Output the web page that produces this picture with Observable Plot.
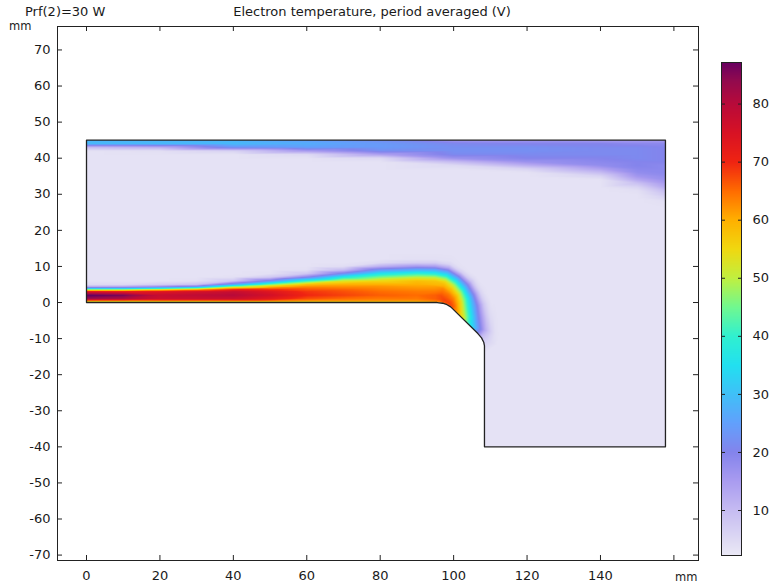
<!DOCTYPE html>
<html><head><meta charset="utf-8">
<script src="https://cdn.jsdelivr.net/npm/d3@7"></script>
<script src="https://cdn.jsdelivr.net/npm/@observablehq/plot@0.6"></script>
<style>
body{margin:0;background:#fff;font-family:"DejaVu Sans",sans-serif;}
#wrap{position:relative;width:772px;height:586px;overflow:hidden;}
#wrap svg{position:absolute;top:0;overflow:visible;}
.t{position:absolute;font-size:13px;line-height:15px;color:#1a1a1a;white-space:nowrap;}
</style></head><body>
<div id="wrap">
  <div class="t" style="left:25px;top:4px;">Prf(2)=30 W</div>
  <div class="t" style="left:372px;top:4px;transform:translateX(-50%);">Electron temperature, period averaged (V)</div>
  <div class="t" style="left:9px;top:19px;font-size:11.5px;">mm</div>
  <div class="t" style="left:675px;top:570px;font-size:11.5px;">mm</div>
</div>
<script>
// ---------- data ----------
// Domain outline (mm)
const boundary = [[0,0],[95.5,0],[97,-0.2],[98.2,-0.6],[99.2,-1.2],[106.6,-8.6],[107.6,-9.8],[108.2,-11],[108.4,-12],[108.4,-40],[157.7,-40],[157.7,45],[0,45],[0,0]];
// Solid electrode region (left of step, below y=0) hidden by a white mask
const maskEdge = [[-0.6,0],[95.5,0],[97,-0.2],[98.2,-0.6],[99.2,-1.2],[106.6,-8.6],[107.6,-9.8],[108.2,-11],[108.4,-12]];

// Hot layer above the lower wall: distance from wall (mm) and Te (V) per station
const wallDist = [0, 0.4, 1, 2, 3, 3.5, 4, 4.5, 5, 6, 7, 8, 9, 10, 11, 12, 14];
const layerX = [0, 10, 20, 30, 40, 50, 60, 70, 80, 90, 95];
const layerTe = [
  [42,62,83,88,75,52,26,10,5,3.5,3.5,3.5,3.5,3.5,3.5,3.5,3.5],
  [42,62,81,86,73,52,27,11,5,3.5,3.5,3.5,3.5,3.5,3.5,3.5,3.5],
  [43,63,77,78,74,58,34,15,7,3.5,3.5,3.5,3.5,3.5,3.5,3.5,3.5],
  [44,63,77,79,76,64,42,20,9,4,3.5,3.5,3.5,3.5,3.5,3.5,3.5],
  [45,64,77,80,78,72,60,44,26,8,4,3.5,3.5,3.5,3.5,3.5,3.5],
  [46,64,73,76,74,70,64,56,45,22,8,4,3.5,3.5,3.5,3.5,3.5],
  [47,62,67,70,69,67,65,62,58,40,20,8,4,3.5,3.5,3.5,3.5],
  [48,62,65,68,67,66,64,62,60,52,38,22,10,4.5,3.5,3.5,3.5],
  [50,62,64,66,65,64,63,62,60,55,46,36,24,12,5,3.5,3.5],
  [54,62,64,65,64,63,62,61,60,58,50,40,28,16,7,4,3.5],
  [58,64,66,66,64,63,62,61,59,57,49,38,27,15,7,4,3.5]
];
// Layer wrapping the rounded corner: wall point, outward direction (deg) and Te along it
const rayBase = [[96.1,-0.05],[97.15,-0.28],[98.5,-0.6],[99.4,-1.4],[100.5,-2.5],[102,-4],[104.6,-6.6],[107.6,-9.8]];
const rayAngle = [75, 60, 45, 30, 15, 0, -15, -25];
const rayTe = [
  [60,65,67,67,65,64,63,61,59,55,46,35,24,13,6,4,3.5],
  [64,67,68,66,64,62,60,58,55,48,38,27,16,7,4,3.5,3.5],
  [66,68,67,64,60,57,54,50,46,36,26,17,9,5,3.5,3.5,3.5],
  [66,67,65,60,54,50,46,42,38,29,20,12,6,4,3.5,3.5,3.5],
  [62,62,59,52,44,40,36,32,28,21,14,8,5,3.5,3.5,3.5,3.5],
  [55,54,50,42,34,30,26,22,19,13,8,5,4,3.5,3.5,3.5,3.5],
  [36,34,31,25,19,16,13,11,9,6,4,3.5,3.5,3.5,3.5,3.5,3.5],
  [9,8.5,7.5,6,5,4.5,4,3.5,3.5,3.5,3.5,3.5,3.5,3.5,3.5,3.5,3.5]
];
// Band under the upper wall: columns (x) and levels (y)
const bandX = [0, 20, 40, 60, 80, 100, 120, 140, 150, 157.7];
const bandY = [45,44,43,42,41,40,39,38,37,36,35,34,33,32,31,30,29,28,26,24,20];
const bandTe = [
  [28,29,10,3.5,3.5,3.5,3.5,3.5,3.5,3.5,3.5,3.5,3.5,3.5,3.5,3.5,3.5,3.5,3.5,3.5,3.5],
  [28,29,12,4,3.5,3.5,3.5,3.5,3.5,3.5,3.5,3.5,3.5,3.5,3.5,3.5,3.5,3.5,3.5,3.5,3.5],
  [28,29,23,6,3.5,3.5,3.5,3.5,3.5,3.5,3.5,3.5,3.5,3.5,3.5,3.5,3.5,3.5,3.5,3.5,3.5],
  [25,27,25,15,5,3.5,3.5,3.5,3.5,3.5,3.5,3.5,3.5,3.5,3.5,3.5,3.5,3.5,3.5,3.5,3.5],
  [22,24,24,22,14,5,3.5,3.5,3.5,3.5,3.5,3.5,3.5,3.5,3.5,3.5,3.5,3.5,3.5,3.5,3.5],
  [16,21,22,22,21,17,10,5,3.5,3.5,3.5,3.5,3.5,3.5,3.5,3.5,3.5,3.5,3.5,3.5,3.5],
  [16,20,22,22,21,20,17,12,6,3.5,3.5,3.5,3.5,3.5,3.5,3.5,3.5,3.5,3.5,3.5,3.5],
  [15,20,21,21,21,20,19,18,14,10,6,3.5,3.5,3.5,3.5,3.5,3.5,3.5,3.5,3.5,3.5],
  [15,19,21,21,21,21,20,20,19,18,16,13,9,6,4,3.5,3.5,3.5,3.5,3.5,3.5],
  [15,19,20,20,20,20,20,19,19,19,18,17,15,13,10,8,6,4,3.5,3.5,3.5]
];
// Background (cold) samples
const bgX = [115, 125, 135, 145, 157.7];
const bgY = [-40, -30, -20, -10, 0, 10];
const stepWall = [[108.4,-14],[108.4,-20],[108.4,-30],[108.4,-40]];
const hiddenPts = [[0,-40],[50,-40],[100,-40],[50,-20]];
const bgTe = 3.5;

// Ticks
const xTicks = [0,20,40,60,80,100,120,140,160];
const xLabels = [0,20,40,60,80,100,120,140];
const yTicks = [-70,-60,-50,-40,-30,-20,-10,0,10,20,30,40,50,60,70];
const cbTicks = [10,20,30,40,50,60,70,80];
const cbRange = [2.25, 87.16];

// Colormap (value -> colour)
const cmapStops = [2.25,5,10,15,20,25,30,35,40,45,50,55,60,65,70,75,80,84,87.16];
const cmapColors = ["#ebe9f6","#dedaf3","#c6bcf2","#aa9cf0","#8484ec","#62a0fc","#40c0f8","#22e0f0","#30f0d0","#70f890","#c0f040","#f0d810","#ffb000","#ff6c00","#f02412","#d81224","#b80a3a","#920a4e","#680060"];

// ---------- build samples ----------
const pts = [];
layerX.forEach((x, i) => wallDist.forEach((d, j) => pts.push({x, y: d, v: layerTe[i][j]})));
rayBase.forEach(([bx, by], i) => {
  const a = rayAngle[i] * Math.PI / 180;
  wallDist.forEach((d, j) => pts.push({x: bx + d * Math.cos(a), y: by + d * Math.sin(a), v: rayTe[i][j]}));
});
bandX.forEach((x, i) => bandY.forEach((y, j) => pts.push({x, y, v: bandTe[i][j]})));
bgX.forEach(x => bgY.forEach(y => pts.push({x, y, v: bgTe})));
stepWall.concat(hiddenPts).forEach(([x, y]) => pts.push({x, y, v: bgTe}));

const cm = d3.scaleLinear(cmapStops, cmapColors).interpolate(d3.interpolateRgb);
const colorScale = {type: "linear", domain: cbRange, interpolate: t => cm(cbRange[0] + t * (cbRange[1] - cbRange[0]))};
const fmt = d => String(d);
const font = {fontFamily: "DejaVu Sans, sans-serif", fontSize: "13px", color: "#1a1a1a", background: "transparent"};

const W = 772, H = 586, mL = 57, mR = 74, mT = 26, mB = 26;
const fw = W - mL - mR, fh = H - mT - mB;

const main = Plot.plot({
  width: W, height: H, marginLeft: mL, marginRight: mR, marginTop: mT, marginBottom: mB,
  style: font,
  x: {domain: [-7.9, 166.7]},
  y: {domain: [-71.5, 76.5]},
  color: colorScale,
  marks: [
    Plot.raster(pts, {x: "x", y: "y", fill: "v", interpolate: "barycentric", x1: 0, x2: 157.7, y1: -40, y2: 45}),
    Plot.area(maskEdge, {x1: d => d[0], y1: -40.6, y2: d => d[1], fill: "white"}),
    Plot.line(boundary, {x: d => d[0], y: d => d[1], stroke: "#222", strokeWidth: 1.3}),
    Plot.frame({stroke: "#222", strokeWidth: 1}),
    Plot.tickX(xTicks, {x: d => d, insetTop: fh - 5, stroke: "#222"}),
    Plot.tickX(xTicks, {x: d => d, insetBottom: fh - 5, stroke: "#222"}),
    Plot.tickY(yTicks, {y: d => d, insetRight: fw - 5, stroke: "#222"}),
    Plot.tickY(yTicks, {y: d => d, insetLeft: fw - 5, stroke: "#222"}),
    Plot.axisX(xLabels, {anchor: "bottom", tickSize: 0, tickPadding: 10, tickFormat: fmt, label: null}),
    Plot.axisY(yTicks, {anchor: "left", tickSize: 0, tickPadding: 7, tickFormat: fmt, label: null})
  ]
});

const cbar = Plot.plot({
  width: 72, height: H, marginLeft: 21, marginRight: 31, marginTop: 62, marginBottom: 31,
  style: font,
  x: {domain: [0, 1], axis: null},
  y: {domain: cbRange},
  color: colorScale,
  marks: [
    Plot.raster({x1: 0, x2: 1, y1: cbRange[0], y2: cbRange[1], fill: (x, y) => y}),
    Plot.frame({stroke: "#222"}),
    Plot.tickY(cbTicks, {y: d => d, insetRight: 16, stroke: "#222"}),
    Plot.tickY(cbTicks, {y: d => d, insetLeft: 17, stroke: "#222"}),
    Plot.axisY(cbTicks, {anchor: "right", tickSize: 0, tickPadding: 11, tickFormat: fmt, label: null})
  ]
});
cbar.style.left = "700px";
main.style.left = "0px";
const wrap = document.getElementById("wrap");
wrap.prepend(cbar);
wrap.prepend(main);
</script>
</body></html>
